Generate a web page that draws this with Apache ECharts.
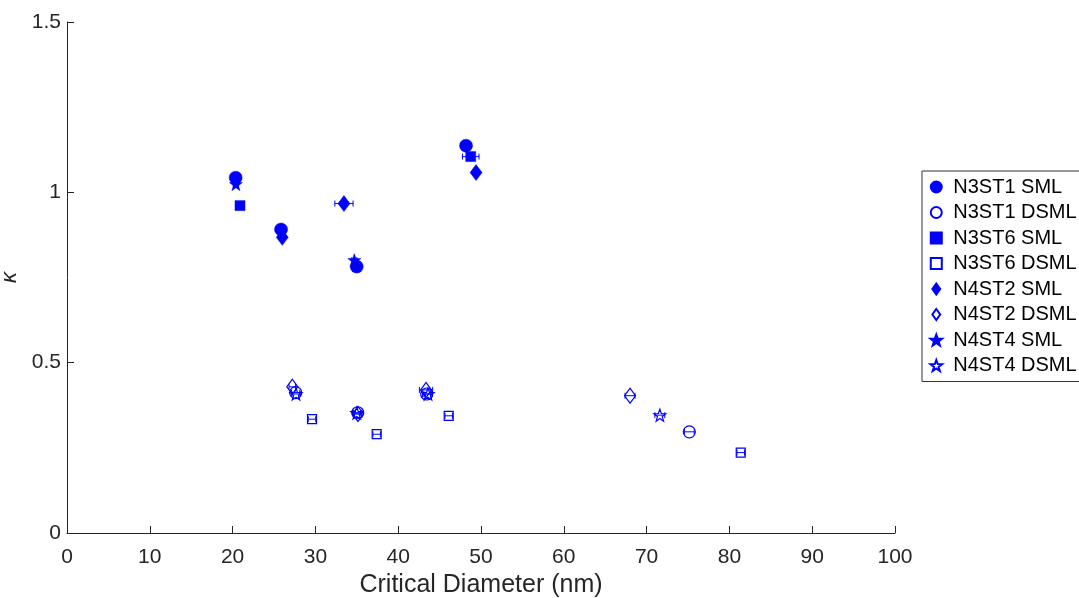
<!DOCTYPE html>
<html>
<head>
<meta charset="utf-8">
<script src="https://cdn.jsdelivr.net/npm/echarts@6/dist/echarts.min.js"></script>
<style>html,body{margin:0;padding:0;background:#fff;}#c{width:1079px;height:598px;}</style>
</head>
<body>
<div id="c"></div>
<script>
// ---- data ----
const xTicks = [0, 10, 20, 30, 40, 50, 60, 70, 80, 90, 100];
const yTicks = [0, 0.5, 1, 1.5];

const n3st1SmlX = [20.37, 25.85, 34.99, 48.19];
const n3st1SmlY = [1.043, 0.891, 0.782, 1.137];
const n3st1SmlErr = [0.3, 0.3, 0.3, 0.3];

const n3st1DsmlX = [27.62, 35.11, 43.44, 75.16];
const n3st1DsmlY = [0.412, 0.353, 0.408, 0.297];
const n3st1DsmlErr = [0.5, 0.5, 0.5, 0.6];

const n3st6SmlX = [20.89, 48.76];
const n3st6SmlY = [0.961, 1.105];
const n3st6SmlErr = [0.3, 1.0];

const n3st6DsmlX = [29.59, 37.40, 46.10, 81.37];
const n3st6DsmlY = [0.334, 0.290, 0.344, 0.236];
const n3st6DsmlErr = [0.45, 0.45, 0.45, 0.45];

const n4st2SmlX = [26.0, 33.45, 49.4];
const n4st2SmlY = [0.868, 0.967, 1.058];
const n4st2SmlErr = [0.3, 1.1, 0.4];

const n4st2DsmlX = [27.21, 35.14, 43.36, 68.0];
const n4st2DsmlY = [0.429, 0.349, 0.420, 0.403];
const n4st2DsmlErr = [0.4, 0.4, 0.8, 0.6];

const n4st4SmlX = [20.4, 34.7];
const n4st4SmlY = [1.024, 0.801];
const n4st4SmlErr = [0.3, 0.3];

const n4st4DsmlX = [27.66, 35.0, 43.6, 71.6];
const n4st4DsmlY = [0.408, 0.352, 0.408, 0.346];
const n4st4DsmlErr = [0.5, 0.5, 0.5, 0.6];

// ---- build chart ----
const BLUE = '#0000ff';
const STAR = 'path://M0,-10 L2.35,-3.24 L9.51,-3.09 L3.8,1.24 L5.88,8.09 L0,4 L-5.88,8.09 L-3.8,1.24 L-9.51,-3.09 L-2.35,-3.24 Z';
const SQUARE = 'path://M-5,-5 L5,-5 L5,5 L-5,5 Z';
const DIAMOND = 'path://M0,-7 L5,0 L0,7 L-5,0 Z';

const groups = [
  {name: 'N3ST1 SML', x: n3st1SmlX, y: n3st1SmlY, e: n3st1SmlErr, symbol: 'circle', size: 13, filled: true},
  {name: 'N3ST1 DSML', x: n3st1DsmlX, y: n3st1DsmlY, e: n3st1DsmlErr, symbol: 'circle', size: 12, filled: false},
  {name: 'N3ST6 SML', x: n3st6SmlX, y: n3st6SmlY, e: n3st6SmlErr, symbol: SQUARE, size: 10, filled: true},
  {name: 'N3ST6 DSML', x: n3st6DsmlX, y: n3st6DsmlY, e: n3st6DsmlErr, symbol: SQUARE, size: 9, filled: false},
  {name: 'N4ST2 SML', x: n4st2SmlX, y: n4st2SmlY, e: n4st2SmlErr, symbol: DIAMOND, size: [12, 16], filled: true},
  {name: 'N4ST2 DSML', x: n4st2DsmlX, y: n4st2DsmlY, e: n4st2DsmlErr, symbol: DIAMOND, size: [11, 15], filled: false},
  {name: 'N4ST4 SML', x: n4st4SmlX, y: n4st4SmlY, e: n4st4SmlErr, symbol: STAR, size: 13, filled: true},
  {name: 'N4ST4 DSML', x: n4st4DsmlX, y: n4st4DsmlY, e: n4st4DsmlErr, symbol: STAR, size: 12, filled: false}
];

function errRender(params, api) {
  const x = api.value(0), y = api.value(1), e = api.value(2);
  const p1 = api.coord([x - e, y]);
  const p2 = api.coord([x + e, y]);
  const style = {stroke: BLUE, lineWidth: 1, fill: null};
  return {
    type: 'group',
    children: [
      {type: 'line', shape: {x1: p1[0], y1: p1[1], x2: p2[0], y2: p2[1]}, style: style},
      {type: 'line', shape: {x1: p1[0], y1: p1[1] - 3, x2: p1[0], y2: p1[1] + 3}, style: style},
      {type: 'line', shape: {x1: p2[0], y1: p2[1] - 3, x2: p2[0], y2: p2[1] + 3}, style: style}
    ]
  };
}

const series = [];
groups.forEach(function (g) {
  series.push({
    type: 'custom',
    name: g.name + ' err',
    renderItem: errRender,
    encode: {x: 0, y: 1},
    data: g.x.map(function (v, i) { return [v, g.y[i], g.e[i]]; }),
    z: 3,
    silent: true
  });
  series.push({
    type: 'scatter',
    name: g.name,
    symbol: g.symbol,
    symbolSize: g.size,
    data: g.x.map(function (v, i) { return [v, g.y[i]]; }),
    itemStyle: g.filled
      ? {color: BLUE, borderColor: BLUE, borderWidth: 0.5, opacity: 1}
      : {color: 'none', borderColor: BLUE, borderWidth: 1.2, opacity: 1},
    emphasis: {disabled: true},
    z: 4
  });
});

const FONT = '"Liberation Sans", Arial, Helvetica, sans-serif';
const TXT = '#262626';

const chart = echarts.init(document.getElementById('c'), null, {renderer: 'canvas'});
chart.setOption({
  animation: false,
  backgroundColor: '#ffffff',
  grid: {left: 67, right: 184, top: 22, bottom: 65, containLabel: false, outerBoundsMode: 'none'},
  legend: {
    orient: 'vertical',
    left: 922,
    top: 171,
    padding: [6, 40, 6, 6],
    itemWidth: 24,
    itemHeight: 11,
    itemGap: 5.5,
    borderColor: '#333333',
    borderWidth: 1,
    backgroundColor: '#ffffff',
    data: groups.map(function (g) { return g.name; }),
    textStyle: {fontFamily: FONT, fontSize: 20, color: '#000', lineHeight: 20},
    selectedMode: false
  },
  xAxis: {
    type: 'value',
    min: xTicks[0],
    max: xTicks[xTicks.length - 1],
    interval: 10,
    name: 'Critical Diameter (nm)',
    nameLocation: 'middle',
    nameGap: 36,
    nameTextStyle: {fontFamily: FONT, fontSize: 25, color: TXT},
    axisLine: {show: true, lineStyle: {color: TXT, width: 1}},
    axisTick: {show: true, inside: true, length: 7, lineStyle: {color: TXT}},
    axisLabel: {fontFamily: FONT, fontSize: 21, color: TXT, margin: 14},
    splitLine: {show: false}
  },
  yAxis: {
    type: 'value',
    min: yTicks[0],
    max: yTicks[yTicks.length - 1],
    interval: 0.5,
    name: 'κ',
    nameLocation: 'middle',
    nameGap: 38,
    nameRotate: 90,
    nameTextStyle: {fontFamily: FONT, fontSize: 22, color: TXT, fontStyle: 'italic'},
    axisLine: {show: true, lineStyle: {color: TXT, width: 1}},
    axisTick: {show: true, inside: true, length: 7, lineStyle: {color: TXT}},
    axisLabel: {fontFamily: FONT, fontSize: 21, color: TXT, margin: 6},
    splitLine: {show: false}
  },
  series: series
});
</script>
</body>
</html>
